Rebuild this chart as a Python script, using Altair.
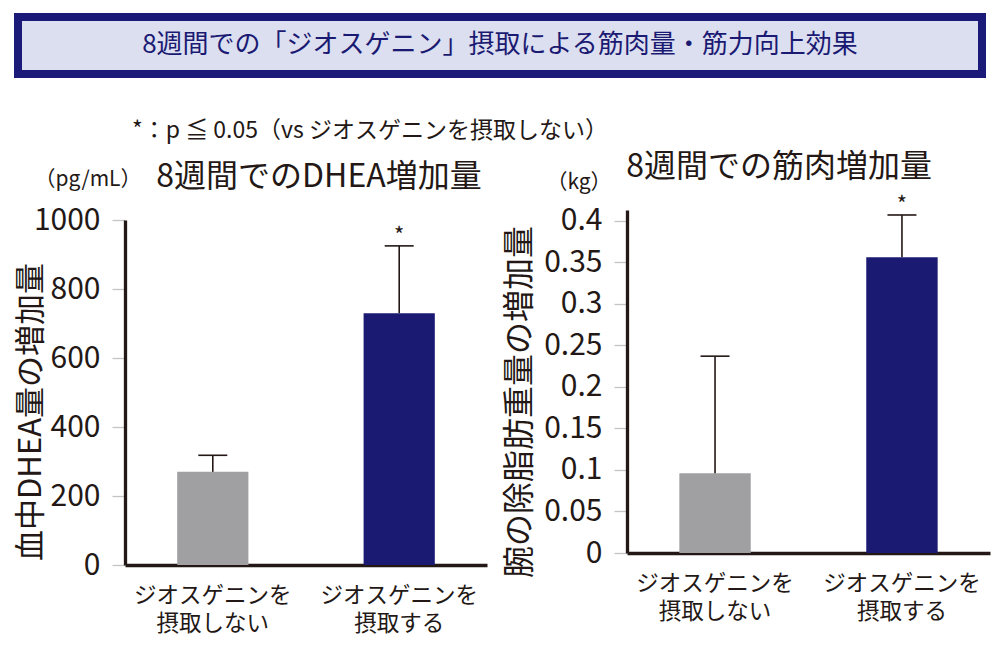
import altair as alt
import pandas as pd

# ---------------- data ----------------
groups = ["ジオスゲニンを|摂取しない", "ジオスゲニンを|摂取する"]
dhea_mean = [270, 730]
dhea_upper = [318, 925]
muscle_mean = [0.096, 0.356]
muscle_upper = [0.237, 0.407]
sig = ["", "*"]
dhea_ticks = [0, 200, 400, 600, 800, 1000]
muscle_ticks = [0, 0.05, 0.1, 0.15, 0.2, 0.25, 0.3, 0.35, 0.4]

main_title = "8週間での「ジオスゲニン」摂取による筋肉量・筋力向上効果"
note_text = "*：p ≦ 0.05（vs ジオスゲニンを摂取しない）"
left_title = "8週間でのDHEA増加量"
right_title = "8週間での筋肉増加量"
left_unit = "（pg/mL）"
right_unit = "（kg）"
left_ytitle = "血中DHEA量の増加量"
right_ytitle = "腕の除脂肪重量の増加量"

# ---------------- style ----------------
FONT = "Noto Sans CJK JP"
INK = "#231815"
NAVY = "#1b1a73"
GRAY = "#a0a0a2"
W, H = 984, 644

dhea_df = pd.DataFrame({"group": groups, "mean": dhea_mean, "upper": dhea_upper, "sig": sig})
muscle_df = pd.DataFrame({"group": groups, "mean": muscle_mean, "upper": muscle_upper, "sig": sig})


def panel(df, ticks, domain_max, xr, yr, fmt):
    xs = alt.Scale(domain=groups, range=xr, paddingInner=0.618, paddingOuter=0.28)
    ys = alt.Scale(domain=[0, domain_max], range=yr, nice=False, zero=True)
    xaxis = alt.Axis(orient="bottom", offset=yr[0] - H, labelExpr="split(datum.label, '|')",
                     labelAngle=0, ticks=False, tickSize=0, labelPadding=19, labelFontSize=22.5,
                     labelLineHeight=28, labelFont=FONT, labelColor=INK, domainColor=INK,
                     domainWidth=3.3, grid=False, labelBaseline="top")
    yaxis = alt.Axis(orient="left", offset=-xr[0], values=ticks, format=fmt, tickSize=13,
                     tickColor="#c4c4c4", tickWidth=1.3, labelPadding=12, labelFontSize=30,
                     labelFont=FONT, labelColor=INK, domainColor=INK, domainWidth=3.3, grid=False)

    def X():
        return alt.X("group:N", scale=xs, sort=groups, title=None, axis=xaxis)

    def Y(f):
        return alt.Y(f + ":Q", scale=ys, title=None, axis=yaxis)

    base = alt.Chart(df)
    bars = base.mark_bar().encode(
        x=X(), y=Y("mean"),
        color=alt.Color("group:N", scale=alt.Scale(domain=groups, range=[GRAY, NAVY]), legend=None),
    )
    rule = base.mark_rule(color=INK, strokeWidth=1.6).encode(x=X(), y=Y("mean"), y2="upper:Q")
    cap = base.mark_tick(color=INK, size=29, thickness=1.6, opacity=1).encode(x=X(), y=Y("upper"))
    star = base.mark_text(font=FONT, fontSize=22, color=INK, baseline="alphabetic", dy=-3).encode(
        x=X(), y=Y("upper"), text="sig:N")
    return alt.layer(bars, rule, cap, star)


left = panel(dhea_df, dhea_ticks, 1000, [117, 479], [557, 212], "d")
right = panel(muscle_df, muscle_ticks, 0.413, [619, 982], [545, 202], "~g")

one = alt.Data(values=[{"a": 1}])


def label(text, x, y, size, color=INK, angle=0, align="center"):
    return alt.Chart(one).mark_text(font=FONT, fontSize=size, color=color, angle=angle,
                                    align=align, baseline="middle").encode(
        x=alt.value(x), y=alt.value(y), text=alt.value(text))


box = alt.Chart(one).mark_rect(fill="#dcdff0", stroke="#1b1a78", strokeWidth=8).encode(
    x=alt.value(10), x2=alt.value(974), y=alt.value(9), y2=alt.value(66))

texts = [
    label(main_title, 492, 37, 26, color="#1b1a73"),
    label(note_text, 124, 123, 23, align="left"),
    label(left_unit, 80, 172, 21),
    label(left_title, 311, 169, 32),
    label(right_unit, 571, 175, 21),
    label(right_title, 771, 159, 32),
    label(left_ytitle, 24, 404, 31, angle=270),
    label(right_ytitle, 512, 394, 32, angle=270),
]

chart = alt.layer(left, right, box, *texts).resolve_scale(
    x="independent", y="independent"
).properties(
    width=W, height=H, autosize=alt.AutoSizeParams(type="none"), padding=0, background="white"
).configure_view(stroke=None)

chart.save("out.html", embed_options={"renderer": "svg", "actions": False})
